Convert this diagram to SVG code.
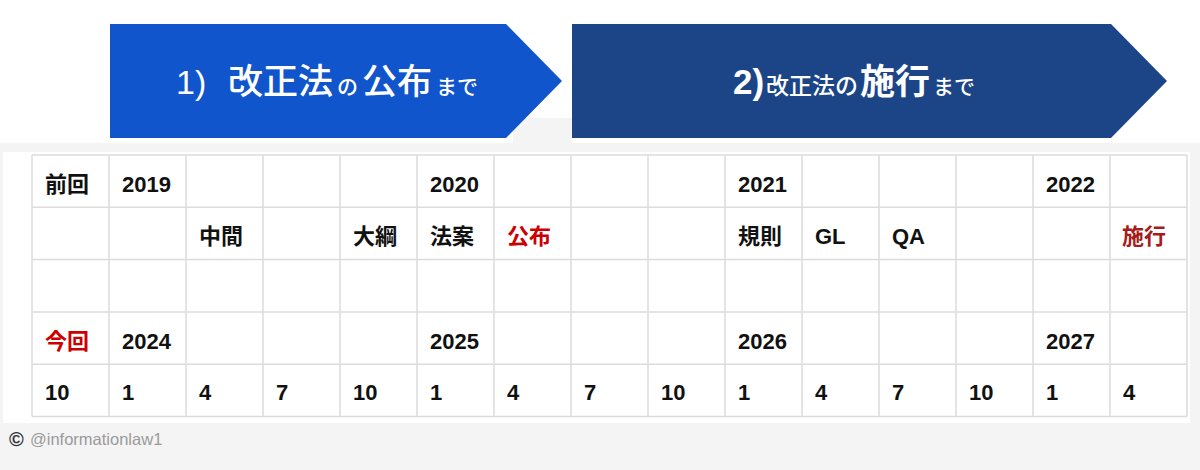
<svg xmlns="http://www.w3.org/2000/svg" width="1200" height="470" viewBox="0 0 1200 470">
<style>
.bg{fill:#f4f4f4}
.arrowtxt{fill:#ffffff;font-family:"Liberation Sans","Noto Sans CJK JP",sans-serif;font-weight:500}
.grid{fill:none;stroke:#dcdcdc;stroke-width:1.5}
.cell{font-family:"Liberation Sans","Noto Sans CJK JP",sans-serif;font-size:22px;font-weight:bold;fill:#111111}
.red{fill:#cc0000}
.dred{fill:#a61c1c}
.copy{font-family:"Liberation Sans","Noto Sans CJK JP",sans-serif}
</style>
<rect x="0" y="0" width="1200" height="470" fill="#ffffff"/>
<rect class="bg" x="0" y="143" width="1200" height="327"/>
<rect class="bg" x="513" y="118" width="59" height="25"/>
<rect x="3" y="152" width="1187" height="271" fill="#ffffff"/>

<g id="phase1">
<polygon points="110,24 506,24 562,81 506,138 110,138" fill="#1155cc"/>
<text class="arrowtxt" y="94"><tspan x="176" font-size="34">1)</tspan><tspan x="228" font-size="35">改正法</tspan><tspan x="337" font-size="21">の</tspan><tspan x="362" font-size="35">公布</tspan><tspan x="436" font-size="21">まで</tspan></text>
</g>

<g id="phase2">
<polygon points="572,24 1111,24 1167,81 1111,138 572,138" fill="#1c4587"/>
<text class="arrowtxt" y="94"><tspan x="733" font-size="35" font-weight="bold">2)</tspan><tspan x="766" font-size="23">改正法の</tspan><tspan x="860" font-size="35" font-weight="bold">施行</tspan><tspan x="933" font-size="21">まで</tspan></text>
</g>

<g id="timeline-table">
<rect x="32" y="155" width="1155" height="261.6" fill="#ffffff"/>
<path class="grid" d="M32,155H1187M32,207.3H1187M32,259.6H1187M32,312H1187M32,364.3H1187M32,416.6H1187
M32,155V416.6M109,155V416.6M186,155V416.6M263,155V416.6M340,155V416.6M417,155V416.6M494,155V416.6M571,155V416.6M648,155V416.6M725,155V416.6M802,155V416.6M879,155V416.6M956,155V416.6M1033,155V416.6M1110,155V416.6M1187,155V416.6"/>
<g id="row-previous-years">
<text class="cell" x="45" y="191.5">前回</text>
<text class="cell" x="122" y="191.5">2019</text>
<text class="cell" x="430" y="191.5">2020</text>
<text class="cell" x="738" y="191.5">2021</text>
<text class="cell" x="1046" y="191.5">2022</text>
</g>
<g id="row-events">
<text class="cell" x="199" y="244">中間</text>
<text class="cell" x="353" y="244">大綱</text>
<text class="cell" x="430" y="244">法案</text>
<text class="cell red" x="507" y="244">公布</text>
<text class="cell" x="738" y="244">規則</text>
<text class="cell" x="815" y="244">GL</text>
<text class="cell" x="892" y="244">QA</text>
<text class="cell dred" x="1122" y="244">施行</text>
</g>
<g id="row-current-years">
<text class="cell red" x="45" y="348.5">今回</text>
<text class="cell" x="122" y="348.5">2024</text>
<text class="cell" x="430" y="348.5">2025</text>
<text class="cell" x="738" y="348.5">2026</text>
<text class="cell" x="1046" y="348.5">2027</text>
</g>
<g id="row-months">
<text class="cell" x="45" y="400">10</text>
<text class="cell" x="122" y="400">1</text>
<text class="cell" x="199" y="400">4</text>
<text class="cell" x="276" y="400">7</text>
<text class="cell" x="353" y="400">10</text>
<text class="cell" x="430" y="400">1</text>
<text class="cell" x="507" y="400">4</text>
<text class="cell" x="584" y="400">7</text>
<text class="cell" x="661" y="400">10</text>
<text class="cell" x="738" y="400">1</text>
<text class="cell" x="815" y="400">4</text>
<text class="cell" x="892" y="400">7</text>
<text class="cell" x="969" y="400">10</text>
<text class="cell" x="1046" y="400">1</text>
<text class="cell" x="1123" y="400">4</text>
</g>
</g>

<g id="credit">
<text class="copy" x="9" y="446" font-size="20" font-weight="bold" fill="#333333">©</text>
<text class="copy" x="30" y="445" font-size="16.5" fill="#9a9a9a">@informationlaw1</text>
</g>
<g id="connectors"></g>
</svg>
